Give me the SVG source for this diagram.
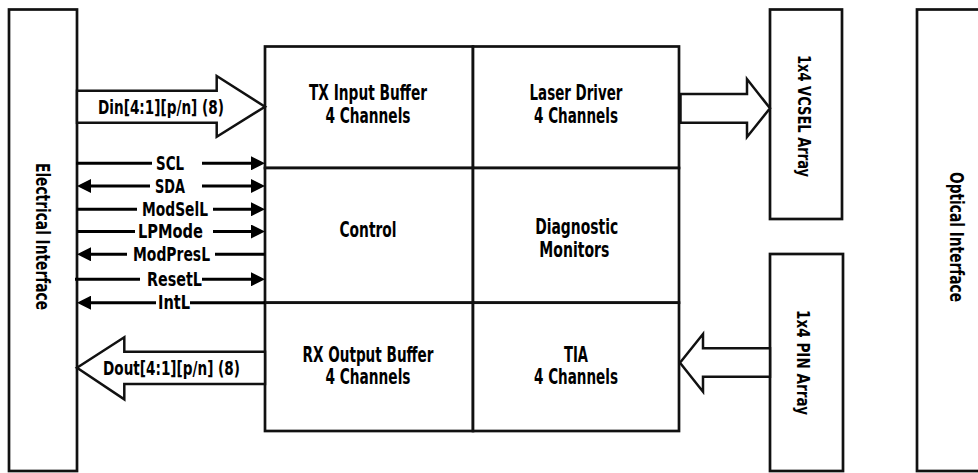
<svg xmlns="http://www.w3.org/2000/svg" width="978" height="473" viewBox="0 0 978 473">
<style>
.box{fill:#fff;stroke:#111;stroke-width:2.7}
.blk{fill:#fff;stroke:#111;stroke-width:2.5;stroke-linejoin:miter}
.sig{stroke:#000;stroke-width:3;fill:none}
text{font-family:"Liberation Sans Narrow","DejaVu Sans Condensed","Liberation Sans",sans-serif;font-weight:bold;fill:#000;text-anchor:middle}
.c{font-size:20.5px}
.s{font-size:19px}
.v{font-size:20px}
.a{font-size:17px}
</style>
<defs>
<marker id="ah" markerUnits="userSpaceOnUse" markerWidth="14" markerHeight="14" refX="6" refY="7" orient="auto">
<path d="M0,0 L14,7 L0,14 z" fill="#000"/>
</marker>
</defs>
<g id="electrical-interface">
<rect class="box" x="9" y="9.5" width="68" height="461.5"/>
<text class="v" transform="translate(36,236.5) rotate(90)" textLength="147" lengthAdjust="spacingAndGlyphs">Electrical Interface</text>
</g>
<g id="optical-interface">
<rect class="box" x="917" y="9.5" width="80" height="461.5"/>
<text class="v" transform="translate(950,237) rotate(90)" textLength="130" lengthAdjust="spacingAndGlyphs">Optical Interface</text>
</g>
<g id="vcsel-array">
<rect class="box" x="770" y="9.5" width="72" height="209.5"/>
<text class="a" transform="translate(797.5,116) rotate(90)" textLength="122" lengthAdjust="spacingAndGlyphs">1x4 VCSEL Array</text>
</g>
<g id="pin-array">
<rect class="box" x="770" y="254" width="73" height="217"/>
<text class="a" transform="translate(797,362.5) rotate(90)" textLength="105" lengthAdjust="spacingAndGlyphs">1x4 PIN Array</text>
</g>
<g id="tx-input-buffer">
<rect class="box" x="265" y="46.5" width="208" height="121.5"/>
<text class="c" x="368" y="100" textLength="118" lengthAdjust="spacingAndGlyphs">TX Input Buffer</text>
<text class="c" x="368" y="122.7" textLength="85" lengthAdjust="spacingAndGlyphs">4 Channels</text>
</g>
<g id="laser-driver">
<rect class="box" x="473" y="46.5" width="206" height="121.5"/>
<text class="c" x="576" y="100" textLength="93" lengthAdjust="spacingAndGlyphs">Laser Driver</text>
<text class="c" x="576" y="122.7" textLength="84" lengthAdjust="spacingAndGlyphs">4 Channels</text>
</g>
<g id="control">
<rect class="box" x="265" y="168" width="208" height="134.7"/>
<text class="c" x="368" y="237.3" textLength="57" lengthAdjust="spacingAndGlyphs">Control</text>
</g>
<g id="diagnostic-monitors">
<rect class="box" x="473" y="168" width="206" height="134.7"/>
<text class="c" x="576.7" y="234" textLength="83" lengthAdjust="spacingAndGlyphs">Diagnostic</text>
<text class="c" x="574.3" y="256.7" textLength="70" lengthAdjust="spacingAndGlyphs">Monitors</text>
</g>
<g id="rx-output-buffer">
<rect class="box" x="265" y="302.7" width="208" height="128.3"/>
<text class="c" x="368" y="361.7" textLength="131" lengthAdjust="spacingAndGlyphs">RX Output Buffer</text>
<text class="c" x="368" y="384.3" textLength="85" lengthAdjust="spacingAndGlyphs">4 Channels</text>
</g>
<g id="tia">
<rect class="box" x="473" y="302.7" width="206" height="128.3"/>
<text class="c" x="576" y="361.7" textLength="24" lengthAdjust="spacingAndGlyphs">TIA</text>
<text class="c" x="576" y="384.3" textLength="84" lengthAdjust="spacingAndGlyphs">4 Channels</text>
</g>
<g id="connectors">
<polygon class="blk" points="77,90.7 216.7,90.7 216.7,76 265,106.7 216.7,136.7 216.7,122.7 77,122.7"/>
<text class="s" x="161" y="114.3" textLength="126" lengthAdjust="spacingAndGlyphs">Din[4:1][p/n] (8)</text>
<polygon class="blk" points="680.5,94 747,94 747,79 770,108.3 747,137 747,122.7 680.5,122.7"/>
<polygon class="blk" points="265,351.7 124.3,351.7 124.3,337.3 77,367.8 124.3,399.3 124.3,384 265,384"/>
<text class="s" x="171.5" y="375" textLength="137" lengthAdjust="spacingAndGlyphs">Dout[4:1][p/n] (8)</text>
<polygon class="blk" points="770,348.3 703,348.3 703,334 680,362.7 703,391.7 703,376.7 770,376.7"/>
<line class="sig" x1="76" y1="163.3" x2="152" y2="163.3"/>
<line class="sig" x1="202" y1="163.3" x2="257" y2="163.3" marker-end="url(#ah)"/>
<text class="s" x="170" y="170" textLength="28" lengthAdjust="spacingAndGlyphs">SCL</text>
<line class="sig" x1="150" y1="186" x2="85" y2="186" marker-end="url(#ah)"/>
<line class="sig" x1="202" y1="186" x2="257" y2="186" marker-end="url(#ah)"/>
<text class="s" x="170" y="192.7" textLength="30" lengthAdjust="spacingAndGlyphs">SDA</text>
<line class="sig" x1="77" y1="209.3" x2="137" y2="209.3"/>
<line class="sig" x1="213" y1="209.3" x2="257" y2="209.3" marker-end="url(#ah)"/>
<text class="s" x="175" y="216" textLength="66" lengthAdjust="spacingAndGlyphs">ModSelL</text>
<line class="sig" x1="77" y1="231.5" x2="135" y2="231.5"/>
<line class="sig" x1="213" y1="231.5" x2="257" y2="231.5" marker-end="url(#ah)"/>
<text class="s" x="170.5" y="238.2" textLength="65" lengthAdjust="spacingAndGlyphs">LPMode</text>
<line class="sig" x1="127" y1="254.3" x2="85" y2="254.3" marker-end="url(#ah)"/>
<line class="sig" x1="215" y1="254.3" x2="265" y2="254.3"/>
<text class="s" x="171.5" y="261" textLength="77" lengthAdjust="spacingAndGlyphs">ModPresL</text>
<line class="sig" x1="75" y1="279.3" x2="140" y2="279.3"/>
<line class="sig" x1="202" y1="279.3" x2="257" y2="279.3" marker-end="url(#ah)"/>
<text class="s" x="174.5" y="286" textLength="55" lengthAdjust="spacingAndGlyphs">ResetL</text>
<line class="sig" x1="156" y1="302.7" x2="85" y2="302.7" marker-end="url(#ah)"/>
<line class="sig" x1="190" y1="302.7" x2="265" y2="302.7"/>
<text class="s" x="174" y="309.4" textLength="32" lengthAdjust="spacingAndGlyphs">IntL</text>
</g>
</svg>
